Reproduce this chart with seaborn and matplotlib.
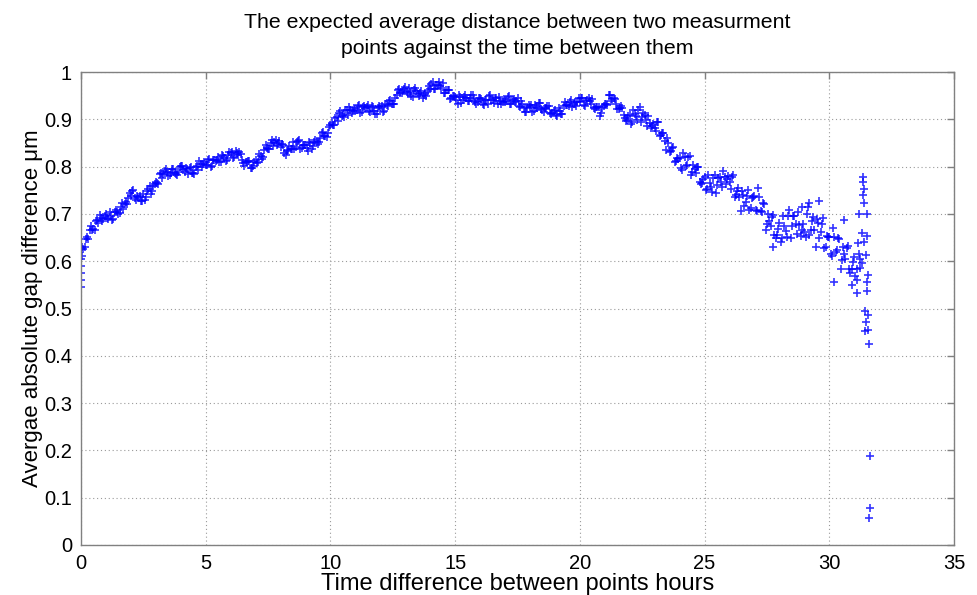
import matplotlib
matplotlib.use("Agg")
import matplotlib.pyplot as plt
import seaborn as sns
import pandas as pd

# ---- data ----
# main band, one point every 0.1 h
hours_main = [
    0.0, 0.1, 0.2, 0.3, 0.4, 0.5, 0.6, 0.7, 0.8, 0.9,
    1.0, 1.1, 1.2, 1.3, 1.4, 1.5, 1.6, 1.7, 1.8, 1.9,
    2.0, 2.1, 2.2, 2.3, 2.4, 2.5, 2.6, 2.7, 2.8, 2.9,
    3.0, 3.1, 3.2, 3.3, 3.4, 3.5, 3.6, 3.7, 3.8, 3.9,
    4.0, 4.1, 4.2, 4.3, 4.4, 4.5, 4.6, 4.7, 4.8, 4.9,
    5.0, 5.1, 5.2, 5.3, 5.4, 5.5, 5.6, 5.7, 5.8, 5.9,
    6.0, 6.1, 6.2, 6.3, 6.4, 6.5, 6.6, 6.7, 6.8, 6.9,
    7.0, 7.1, 7.2, 7.3, 7.4, 7.5, 7.6, 7.7, 7.8, 7.9,
    8.0, 8.1, 8.2, 8.3, 8.4, 8.5, 8.6, 8.7, 8.8, 8.9,
    9.0, 9.1, 9.2, 9.3, 9.4, 9.5, 9.6, 9.7, 9.8, 9.9,
    10.0, 10.1, 10.2, 10.3, 10.4, 10.5, 10.6, 10.7, 10.8, 10.9,
    11.0, 11.1, 11.2, 11.3, 11.4, 11.5, 11.6, 11.7, 11.8, 11.9,
    12.0, 12.1, 12.2, 12.3, 12.4, 12.5, 12.6, 12.7, 12.8, 12.9,
    13.0, 13.1, 13.2, 13.3, 13.4, 13.5, 13.6, 13.7, 13.8, 13.9,
    14.0, 14.1, 14.2, 14.3, 14.4, 14.5, 14.6, 14.7, 14.8, 14.9,
    15.0, 15.1, 15.2, 15.3, 15.4, 15.5, 15.6, 15.7, 15.8, 15.9,
    16.0, 16.1, 16.2, 16.3, 16.4, 16.5, 16.6, 16.7, 16.8, 16.9,
    17.0, 17.1, 17.2, 17.3, 17.4, 17.5, 17.6, 17.7, 17.8, 17.9,
    18.0, 18.1, 18.2, 18.3, 18.4, 18.5, 18.6, 18.7, 18.8, 18.9,
    19.0, 19.1, 19.2, 19.3, 19.4, 19.5, 19.6, 19.7, 19.8, 19.9,
    20.0, 20.1, 20.2, 20.3, 20.4, 20.5, 20.6, 20.7, 20.8, 20.9,
    21.0, 21.1, 21.2, 21.3, 21.4, 21.5, 21.6, 21.7, 21.8, 21.9,
    22.0, 22.1, 22.2, 22.3, 22.4, 22.5, 22.6, 22.7, 22.8, 22.9,
    23.0, 23.1, 23.2, 23.3, 23.4, 23.5, 23.6, 23.7, 23.8, 23.9,
    24.0, 24.1, 24.2, 24.3, 24.4, 24.5, 24.6, 24.7, 24.8, 24.9,
    25.0, 25.1, 25.2, 25.3, 25.4, 25.5, 25.6, 25.7, 25.8, 25.9,
    26.0, 26.1, 26.2, 26.3, 26.4, 26.5, 26.6, 26.7, 26.8, 26.9,
    27.0, 27.1, 27.2, 27.3, 27.4, 27.5, 27.6, 27.7, 27.8, 27.9,
    28.0, 28.1, 28.2, 28.3, 28.4, 28.5, 28.6, 28.7, 28.8, 28.9,
    29.0, 29.1, 29.2, 29.3, 29.4, 29.5, 29.6, 29.7, 29.8, 29.9,
    30.0, 30.1, 30.2, 30.3, 30.4, 30.5, 30.6, 30.7, 30.8, 30.9,
    31.0, 31.1, 31.2, 31.3,
]
gap_main = [
    0.626, 0.625, 0.647, 0.647, 0.674, 0.669, 0.684, 0.680, 0.691, 0.690,
    0.700, 0.690, 0.695, 0.689, 0.709, 0.700, 0.714, 0.711, 0.726, 0.733,
    0.738, 0.751, 0.730, 0.736, 0.728, 0.743, 0.736, 0.752, 0.743, 0.760,
    0.768, 0.763, 0.786, 0.784, 0.795, 0.781, 0.787, 0.795, 0.784, 0.789,
    0.801, 0.792, 0.798, 0.784, 0.799, 0.787, 0.799, 0.793, 0.806, 0.805,
    0.803, 0.813, 0.800, 0.813, 0.811, 0.821, 0.809, 0.823, 0.812, 0.825,
    0.828, 0.818, 0.834, 0.824, 0.827, 0.808, 0.809, 0.812, 0.798, 0.802,
    0.814, 0.809, 0.822, 0.820, 0.845, 0.838, 0.849, 0.843, 0.856, 0.850,
    0.841, 0.845, 0.825, 0.836, 0.837, 0.851, 0.842, 0.854, 0.838, 0.846,
    0.845, 0.833, 0.850, 0.844, 0.856, 0.847, 0.861, 0.873, 0.864, 0.871,
    0.888, 0.887, 0.902, 0.897, 0.918, 0.909, 0.919, 0.910, 0.919, 0.918,
    0.917, 0.929, 0.914, 0.926, 0.923, 0.931, 0.915, 0.925, 0.911, 0.923,
    0.926, 0.916, 0.933, 0.928, 0.940, 0.932, 0.946, 0.961, 0.955, 0.960,
    0.968, 0.953, 0.958, 0.947, 0.967, 0.954, 0.956, 0.944, 0.956, 0.960,
    0.964, 0.978, 0.964, 0.973, 0.970, 0.976, 0.956, 0.962, 0.943, 0.950,
    0.948, 0.933, 0.947, 0.940, 0.951, 0.938, 0.944, 0.952, 0.937, 0.936,
    0.944, 0.932, 0.941, 0.933, 0.952, 0.941, 0.946, 0.933, 0.939, 0.937,
    0.937, 0.948, 0.932, 0.941, 0.936, 0.944, 0.926, 0.933, 0.915, 0.925,
    0.927, 0.916, 0.931, 0.924, 0.934, 0.919, 0.923, 0.928, 0.914, 0.914,
    0.920, 0.907, 0.917, 0.912, 0.936, 0.930, 0.936, 0.926, 0.937, 0.937,
    0.936, 0.946, 0.929, 0.941, 0.938, 0.943, 0.922, 0.925, 0.908, 0.924,
    0.933, 0.931, 0.952, 0.942, 0.943, 0.922, 0.924, 0.924, 0.903, 0.899,
    0.909, 0.895, 0.911, 0.899, 0.926, 0.905, 0.910, 0.886, 0.893, 0.886,
    0.881, 0.895, 0.864, 0.871, 0.854, 0.860, 0.831, 0.840, 0.809, 0.819,
    0.819, 0.792, 0.820, 0.804, 0.822, 0.788, 0.794, 0.800, 0.768, 0.766,
    0.779, 0.753, 0.765, 0.747, 0.783, 0.762, 0.777, 0.757, 0.777, 0.774,
    0.768, 0.779, 0.736, 0.748, 0.736, 0.749, 0.717, 0.737, 0.709, 0.733,
    0.738, 0.706, 0.735, 0.705, 0.720, 0.679, 0.686, 0.694, 0.656, 0.656,
    0.680, 0.648, 0.674, 0.652, 0.708, 0.675, 0.695, 0.658, 0.677, 0.665,
    0.662, 0.699, 0.656, 0.685, 0.667, 0.690, 0.650, 0.679, 0.628, 0.653,
    0.651, 0.611, 0.651, 0.624, 0.647, 0.602, 0.615, 0.628, 0.583, 0.583,
    0.608, 0.583, 0.616, 0.596,
]

# in-between points (every 0.1 h, offset by 0.05 h) in the first part
hours_mid = [
    0.05, 0.15, 0.25, 0.35, 0.45, 0.55, 0.65, 0.75, 0.85, 0.95,
    1.05, 1.15, 1.25, 1.35, 1.45, 1.55, 1.65, 1.75, 1.85, 1.95,
    2.05, 2.15, 2.25, 2.35, 2.45, 2.55, 2.65, 2.75, 2.85, 2.95,
    3.05, 3.15, 3.25, 3.35, 3.45, 3.55, 3.65, 3.75, 3.85, 3.95,
    4.05, 4.15, 4.25, 4.35, 4.45, 4.55, 4.65, 4.75, 4.85, 4.95,
    5.05, 5.15, 5.25, 5.35, 5.45, 5.55, 5.65, 5.75, 5.85, 5.95,
    6.05, 6.15, 6.25, 6.35, 6.45, 6.55, 6.65, 6.75, 6.85, 6.95,
    7.05, 7.15, 7.25, 7.35, 7.45, 7.55, 7.65, 7.75, 7.85, 7.95,
    8.05, 8.15, 8.25, 8.35, 8.45, 8.55, 8.65, 8.75, 8.85, 8.95,
    9.05, 9.15, 9.25, 9.35, 9.45, 9.55, 9.65, 9.75, 9.85, 9.95,
    10.05, 10.15, 10.25, 10.35, 10.45, 10.55, 10.65, 10.75, 10.85, 10.95,
    11.05, 11.15, 11.25, 11.35, 11.45, 11.55, 11.65, 11.75, 11.85, 11.95,
    12.05, 12.15, 12.25, 12.35, 12.45, 12.55, 12.65, 12.75, 12.85, 12.95,
    13.05, 13.15, 13.25, 13.35, 13.45, 13.55, 13.65, 13.75, 13.85, 13.95,
    14.05, 14.15, 14.25, 14.35, 14.45, 14.55, 14.65, 14.75, 14.85, 14.95,
    15.05, 15.15, 15.25, 15.35, 15.45, 15.55, 15.65, 15.75, 15.85, 15.95,
    16.05, 16.15, 16.25, 16.35, 16.45, 16.55, 16.65, 16.75, 16.85, 16.95,
    17.05, 17.15, 17.25, 17.35, 17.45, 17.55, 17.65, 17.75, 17.85, 17.95,
    18.05, 18.15, 18.25, 18.35, 18.45, 18.55, 18.65, 18.75, 18.85, 18.95,
    19.05, 19.15, 19.25, 19.35, 19.45, 19.55, 19.65, 19.75, 19.85, 19.95,
    20.05, 20.15, 20.25, 20.35, 20.45, 20.55, 20.65, 20.75, 20.85, 20.95,
    21.05, 21.15, 21.25, 21.35, 21.45, 21.55, 21.65, 21.75, 21.85, 21.95,
]
gap_mid = [
    0.630, 0.630, 0.651, 0.667, 0.665, 0.667, 0.687, 0.697, 0.685, 0.695,
    0.692, 0.703, 0.688, 0.703, 0.703, 0.702, 0.722, 0.720, 0.721, 0.745,
    0.748, 0.733, 0.737, 0.738, 0.728, 0.730, 0.748, 0.758, 0.749, 0.764,
    0.766, 0.785, 0.776, 0.791, 0.789, 0.782, 0.795, 0.786, 0.782, 0.800,
    0.801, 0.789, 0.795, 0.798, 0.786, 0.784, 0.801, 0.811, 0.800, 0.809,
    0.804, 0.816, 0.802, 0.815, 0.814, 0.809, 0.825, 0.818, 0.813, 0.830,
    0.831, 0.820, 0.828, 0.830, 0.813, 0.802, 0.809, 0.812, 0.798, 0.809,
    0.808, 0.826, 0.817, 0.836, 0.840, 0.838, 0.856, 0.851, 0.845, 0.855,
    0.847, 0.828, 0.834, 0.843, 0.837, 0.837, 0.852, 0.856, 0.840, 0.845,
    0.839, 0.852, 0.838, 0.852, 0.852, 0.852, 0.871, 0.865, 0.863, 0.884,
    0.892, 0.888, 0.904, 0.914, 0.907, 0.905, 0.919, 0.926, 0.913, 0.923,
    0.919, 0.931, 0.916, 0.928, 0.925, 0.917, 0.929, 0.918, 0.912, 0.928,
    0.929, 0.918, 0.930, 0.939, 0.932, 0.933, 0.952, 0.965, 0.956, 0.965,
    0.957, 0.966, 0.949, 0.961, 0.959, 0.950, 0.960, 0.951, 0.950, 0.971,
    0.975, 0.964, 0.972, 0.978, 0.966, 0.956, 0.963, 0.963, 0.944, 0.949,
    0.941, 0.951, 0.935, 0.947, 0.945, 0.939, 0.952, 0.941, 0.932, 0.945,
    0.943, 0.930, 0.941, 0.949, 0.940, 0.934, 0.944, 0.947, 0.933, 0.942,
    0.938, 0.950, 0.932, 0.942, 0.938, 0.929, 0.938, 0.924, 0.915, 0.930,
    0.930, 0.917, 0.927, 0.934, 0.922, 0.915, 0.924, 0.928, 0.912, 0.918,
    0.910, 0.923, 0.911, 0.928, 0.931, 0.928, 0.941, 0.933, 0.929, 0.946,
    0.945, 0.930, 0.939, 0.946, 0.933, 0.923, 0.927, 0.927, 0.914, 0.928,
    0.932, 0.952, 0.938, 0.944, 0.933, 0.921, 0.928, 0.910, 0.896, 0.907,
]

# extra points filling the wider tail of the band
hours_tail = [
    22.05, 22.15, 22.25, 22.35, 22.45, 22.55, 22.65, 22.75, 22.85, 22.95,
    23.05, 23.15, 23.25, 23.35, 23.45, 23.55, 23.65, 23.75, 23.85, 23.95,
    24.05, 24.15, 24.25, 24.35, 24.45, 24.55, 24.65, 24.75, 24.85, 24.95,
    25.05, 25.15, 25.25, 25.35, 25.45, 25.55, 25.65, 25.75, 25.85, 25.95,
    26.05, 26.15, 26.25, 26.35, 26.45, 26.55, 26.65, 26.75, 26.85, 26.95,
    27.05, 27.15, 27.25, 27.35, 27.45, 27.55, 27.65, 27.75, 27.85, 27.95,
    28.05, 28.15, 28.25, 28.35, 28.45, 28.55, 28.65, 28.75, 28.85, 28.95,
    29.05, 29.15, 29.25, 29.35, 29.45, 29.55, 29.65, 29.75, 29.85, 29.95,
    30.05, 30.15, 30.25, 30.35, 30.45, 30.55, 30.65, 30.75, 30.85, 30.95,
    31.05, 31.15, 31.25,
]
gap_tail = [
    0.891, 0.920, 0.906, 0.920, 0.895, 0.913, 0.898, 0.908, 0.881, 0.891,
    0.875, 0.895, 0.867, 0.870, 0.836, 0.850, 0.834, 0.841, 0.811, 0.817,
    0.797, 0.829, 0.802, 0.820, 0.782, 0.804, 0.786, 0.799, 0.763, 0.774,
    0.751, 0.782, 0.756, 0.776, 0.744, 0.776, 0.768, 0.791, 0.764, 0.781,
    0.752, 0.783, 0.739, 0.755, 0.707, 0.741, 0.725, 0.750, 0.713, 0.735,
    0.708, 0.754, 0.706, 0.724, 0.665, 0.700, 0.675, 0.698, 0.648, 0.669,
    0.641, 0.695, 0.663, 0.696, 0.649, 0.695, 0.678, 0.703, 0.654, 0.678,
    0.651, 0.714, 0.667, 0.694, 0.629, 0.681, 0.662, 0.692, 0.630, 0.651,
    0.615, 0.670, 0.620, 0.649, 0.584, 0.630, 0.604, 0.633, 0.574, 0.598,
    0.569, 0.639, 0.604,
]

# isolated points (start of the series and the scattered end)
hours_extra = [
    0.0, 0.0, 0.0, 0.0, 0.0, 0.03,
    27.73, 28.9, 29.2, 29.6, 30.2, 30.57, 30.9, 31.1, 31.13, 31.25,
    31.3, 31.4, 31.2, 31.36, 31.36, 31.38, 31.36, 31.38, 31.52, 31.5,
    31.48, 31.55, 31.5, 31.5, 31.42, 31.55, 31.48, 31.45, 31.55, 31.58,
    31.62, 31.62, 31.6,
]
gap_extra = [
    0.545, 0.560, 0.575, 0.590, 0.605, 0.612,
    0.629, 0.715, 0.722, 0.728, 0.555, 0.687, 0.550, 0.560, 0.532, 0.585,
    0.660, 0.640, 0.700, 0.779, 0.768, 0.752, 0.740, 0.724, 0.700, 0.653,
    0.613, 0.571, 0.557, 0.538, 0.495, 0.486, 0.472, 0.453, 0.455, 0.424,
    0.188, 0.079, 0.057,
]

x_ticks = [0, 5, 10, 15, 20, 25, 30, 35]
y_ticks = [0, 0.1, 0.2, 0.3, 0.4, 0.5, 0.6, 0.7, 0.8, 0.9, 1]
y_tick_labels = ["0", "0.1", "0.2", "0.3", "0.4", "0.5", "0.6", "0.7", "0.8", "0.9", "1"]

df = pd.DataFrame({
    "hours": hours_main + hours_mid + hours_tail + hours_extra,
    "gap": gap_main + gap_mid + gap_tail + gap_extra,
})

# ---- styling ----
sns.set_style("white")
plt.rcParams["font.family"] = ["Liberation Sans", "DejaVu Sans"]
plt.rcParams["text.color"] = "black"
plt.rcParams["axes.labelcolor"] = "black"

fig = plt.figure(figsize=(9.77, 5.95), dpi=100)
ax = fig.add_axes([81 / 977, 50 / 595, 873 / 977, 473 / 595])

sns.scatterplot(data=df, x="hours", y="gap", ax=ax, marker="+",
                color=(0, 0, 1), s=36, linewidth=1.2, alpha=0.8, legend=False)

ax.set_xlim(0, 35)
ax.set_ylim(0, 1)
ax.set_xticks(x_ticks)
ax.set_xticklabels([str(t) for t in x_ticks])
ax.set_yticks(y_ticks)
ax.set_yticklabels(y_tick_labels)

ax.grid(True, linestyle=(0, (1, 2.5)), color="#9a9a9a", linewidth=0.8)
ax.set_axisbelow(True)
for sp in ax.spines.values():
    sp.set_color("#808080")
    sp.set_linewidth(1.0)
    sp.set_visible(True)
ax.tick_params(direction="in", length=5, width=1, color="#808080",
               top=True, right=True, labelsize=14.5, labelcolor="black", pad=6.5)

ax.set_xlabel("Time difference between points hours", fontsize=17, labelpad=0,
              color="black")
ax.set_ylabel("Avergae absolute gap difference \u03bcm", fontsize=16, labelpad=1,
              color="black")
ax.set_title("The expected average distance between two measurment\npoints against the time between them",
             fontsize=15.3, pad=13, linespacing=1.45, color="black")

fig.savefig("out.png", dpi=100)
